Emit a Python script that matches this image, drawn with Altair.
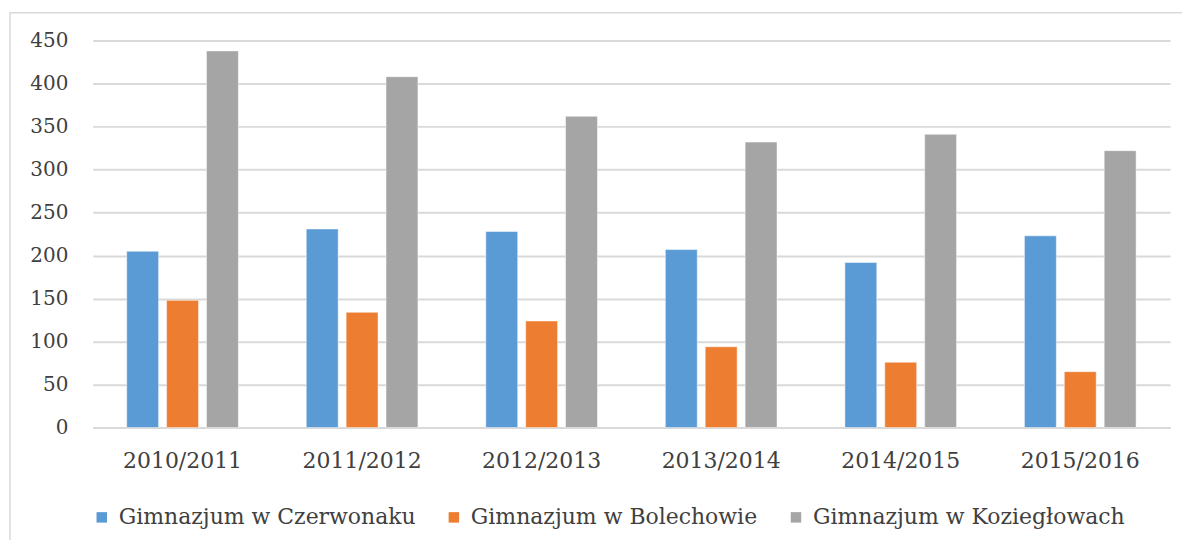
import altair as alt
import pandas as pd

years = ["2010/2011", "2011/2012", "2012/2013", "2013/2014", "2014/2015", "2015/2016"]
schools = ["Gimnazjum w Czerwonaku", "Gimnazjum w Bolechowie", "Gimnazjum w Koziegłowach"]
czerwonak = [205, 231, 228, 207, 192, 223]
bolechowo = [148, 134, 124, 94, 76, 65]
kozieglowy = [438, 408, 362, 332, 341, 322]
colors = ["#5B9BD5", "#ED7D31", "#A5A5A5"]

rows = []
for series, vals in zip(schools, [czerwonak, bolechowo, kozieglowy]):
    for y, v in zip(years, vals):
        rows.append({"year": y, "school": series, "value": v})
df = pd.DataFrame(rows)

FONT = "DejaVu Serif"
TXT = "#404040"

bars = alt.Chart(df).mark_bar(stroke="#ffffff", strokeWidth=0.8, strokeOpacity=0.6).encode(
    x=alt.X("year:N", sort=years, title=None,
            scale=alt.Scale(paddingInner=0.378, paddingOuter=0.189),
            axis=alt.Axis(labelAngle=0, labelFont=FONT, labelFontSize=22, labelColor=TXT,
                          labelPadding=23, ticks=False, domain=True, domainColor="#d9d9d9",
                          domainWidth=2, grid=False)),
    xOffset=alt.XOffset("school:N", sort=schools,
                        scale=alt.Scale(paddingInner=0.2, paddingOuter=0)),
    y=alt.Y("value:Q", title=None,
            scale=alt.Scale(domain=[0, 450], nice=False),
            axis=alt.Axis(values=list(range(0, 451, 50)), labelFont=FONT, labelFontSize=20,
                          labelColor=TXT, labelPadding=25, ticks=False, domain=False,
                          grid=True, gridColor="#d9d9d9", gridWidth=2)),
    color=alt.Color("school:N", sort=schools, title=None,
                    scale=alt.Scale(domain=schools, range=colors),
                    legend=alt.Legend(orient="none", legendX=-2, legendY=467,
                                      direction="horizontal", symbolType="square",
                                      symbolSize=110, symbolStrokeWidth=0,
                                      labelFont=FONT, labelFontSize=22, labelColor=TXT,
                                      labelLimit=0, columnPadding=27, labelOffset=6)),
)

border = alt.Chart(alt.Data(values=[{}])).mark_rect(
    filled=False, stroke="#d9d9d9", strokeWidth=1.5
).encode(
    x=alt.value(-83), x2=alt.value(1125), y=alt.value(-28), y2=alt.value(560)
)

chart = alt.layer(border, bars).properties(
    width=1080, height=388,
    autosize=alt.AutoSizeParams(type="none"),
    padding={"left": 85, "top": 32, "right": 12, "bottom": 112},
).configure_view(stroke=None)

chart.save("out.html", embed_options={"renderer": "svg", "actions": False})
